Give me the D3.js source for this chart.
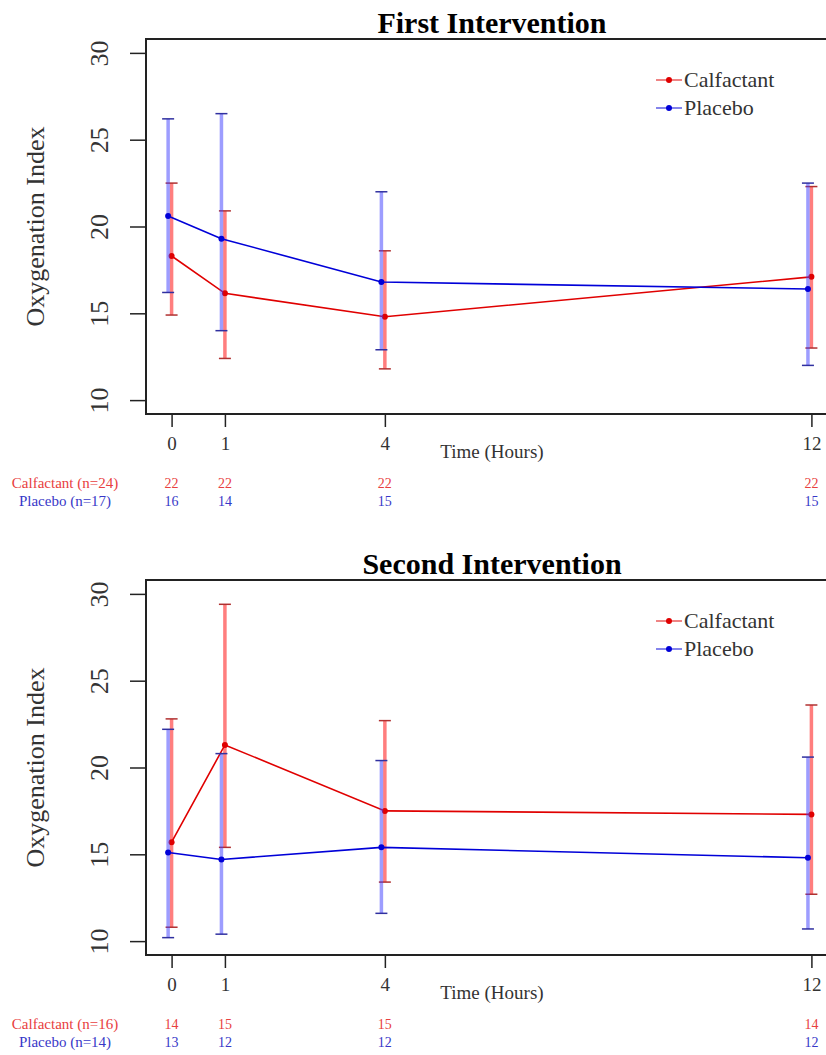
<!DOCTYPE html>
<html>
<head>
<meta charset="utf-8">
<script src="https://cdn.jsdelivr.net/npm/d3@7"></script>
<style>
  body { margin: 0; background: #fff; }
  svg { display: block; }
</style>
</head>
<body>
<script>
// hours on the x axis
const hours = [0, 1, 4, 12];
const yTicks = [10, 15, 20, 25, 30];

// first intervention
const first_calf_mean = [18.3, 16.15, 14.8, 17.1];
const first_calf_lo   = [14.9, 12.4, 11.8, 13.0];
const first_calf_hi   = [22.5, 20.9, 18.6, 22.3];
const first_plac_mean = [20.6, 19.3, 16.8, 16.4];
const first_plac_lo   = [16.2, 14.0, 12.9, 12.0];
const first_plac_hi   = [26.2, 26.5, 22.0, 22.5];
const first_calf_n = [22, 22, 22, 22];
const first_plac_n = [16, 14, 15, 15];

// second intervention
const second_calf_mean = [15.7, 21.3, 17.5, 17.3];
const second_calf_lo   = [10.8, 15.4, 13.4, 12.7];
const second_calf_hi   = [22.8, 29.4, 22.7, 23.6];
const second_plac_mean = [15.1, 14.7, 15.4, 14.8];
const second_plac_lo   = [10.2, 10.4, 11.6, 10.7];
const second_plac_hi   = [22.2, 20.8, 20.4, 20.6];
const second_calf_n = [14, 15, 15, 14];
const second_plac_n = [13, 12, 12, 12];

const canvasW = 826;
const canvasH = 1055;
const serif = "'Liberation Serif', 'DejaVu Serif', serif";

let svg = d3.select("body").append("svg")
  .attr("width", canvasW)
  .attr("height", canvasH)
  .style("background-color", "#fff");

// x scale is shared: R style 4% padding on [0,12]
let x = d3.scaleLinear().domain([-0.48, 12.48]).range([146, 837]);

function drawPanel(p) {
  let y = d3.scaleLinear().domain([9.2, 30.8]).range([p.bottom, p.top]);
  let g = svg.append("g");

  // title
  g.append("text")
    .attr("x", 492)
    .attr("y", p.top - 6)
    .attr("text-anchor", "middle")
    .attr("font-family", serif)
    .attr("font-weight", "bold")
    .attr("font-size", "30px")
    .text(p.title);

  // y axis
  let yAxis = g.append("g")
    .attr("transform", "translate(146,0)")
    .call(d3.axisLeft(y).tickValues(yTicks).tickSize(16).tickFormat(d3.format("d")));
  yAxis.select(".domain").remove();
  yAxis.selectAll("line").attr("stroke", "#222").attr("stroke-width", 1.5);
  yAxis.selectAll("text")
    .attr("transform", "rotate(-90)")
    .attr("x", 0).attr("y", -38).attr("dy", 0)
    .attr("text-anchor", "middle")
    .attr("font-family", serif)
    .attr("font-size", "26px")
    .attr("fill", "#333");

  // x axis
  let xAxis = g.append("g")
    .attr("transform", "translate(0," + p.bottom + ")")
    .call(d3.axisBottom(x).tickValues(hours).tickSize(13).tickFormat(d3.format("d")));
  xAxis.select(".domain").remove();
  xAxis.selectAll("line").attr("stroke", "#222").attr("stroke-width", 1.5);
  xAxis.selectAll("text")
    .attr("y", 36).attr("dy", 0)
    .attr("font-family", serif)
    .attr("font-size", "19px")
    .attr("fill", "#333");

  g.append("text")
    .attr("x", 492)
    .attr("y", p.bottom + 44)
    .attr("text-anchor", "middle")
    .attr("font-family", serif)
    .attr("font-size", "19px")
    .attr("fill", "#333")
    .text("Time (Hours)");

  g.append("text")
    .attr("transform", "translate(44," + ((p.top + p.bottom) / 2) + ") rotate(-90)")
    .attr("text-anchor", "middle")
    .attr("font-family", serif)
    .attr("font-size", "26px")
    .attr("fill", "#333")
    .text("Oxygenation Index");

  // series
  p.series.forEach(s => {
    let pts = hours.map((h, i) => ({ h: h, m: s.mean[i], lo: s.lo[i], hi: s.hi[i] }));
    let px = d => x(d.h + s.shift);

    g.selectAll()
      .data(pts)
      .enter()
      .append("line")
        .attr("x1", px).attr("x2", px)
        .attr("y1", d => y(d.lo)).attr("y2", d => y(d.hi))
        .attr("stroke", s.light)
        .attr("stroke-width", 3.5);

    ["lo", "hi"].forEach(k => {
      g.selectAll()
        .data(pts)
        .enter()
        .append("line")
          .attr("x1", d => px(d) - 6).attr("x2", d => px(d) + 6)
          .attr("y1", d => y(d[k])).attr("y2", d => y(d[k]))
          .attr("stroke", s.dark)
          .attr("stroke-width", 1.5);
    });

    g.append("path")
      .datum(pts)
      .attr("fill", "none")
      .attr("stroke", s.color)
      .attr("stroke-width", 1.6)
      .attr("d", d3.line().x(px).y(d => y(d.m)));

    g.selectAll()
      .data(pts)
      .enter()
      .append("circle")
        .attr("cx", px)
        .attr("cy", d => y(d.m))
        .attr("r", 3)
        .attr("fill", s.color);
  });

  // box
  g.append("rect")
    .attr("x", 146).attr("y", p.top)
    .attr("width", 691).attr("height", p.bottom - p.top)
    .attr("fill", "none")
    .attr("stroke", "#222")
    .attr("stroke-width", 2);

  // legend
  p.series.forEach((s, i) => {
    let ly = p.top + 41 + i * 28;
    g.append("line")
      .attr("x1", 656).attr("x2", 682)
      .attr("y1", ly).attr("y2", ly)
      .attr("stroke", s.color).attr("stroke-width", 1.6).attr("opacity", 0.6);
    g.append("circle")
      .attr("cx", 669).attr("cy", ly).attr("r", 3)
      .attr("fill", s.color);
    g.append("text")
      .attr("x", 684).attr("y", ly + 7)
      .attr("font-family", serif)
      .attr("font-size", "22px")
      .attr("fill", "#333")
      .text(s.name);
  });

  // number at risk rows
  p.series.forEach((s, i) => {
    let ry = p.bottom + 74 + i * 18;
    g.append("text")
      .attr("x", 65).attr("y", ry)
      .attr("text-anchor", "middle")
      .attr("font-family", serif)
      .attr("font-size", "15px")
      .attr("fill", s.text)
      .text(s.label);
    g.selectAll()
      .data(hours)
      .enter()
      .append("text")
        .attr("x", d => x(d))
        .attr("y", ry)
        .attr("text-anchor", "middle")
        .attr("font-family", serif)
        .attr("font-size", "14px")
        .attr("fill", s.text)
        .text((d, j) => s.n[j]);
  });
}

const red = { color: "#e00000", light: "rgba(255,40,40,0.6)", dark: "#b03030", text: "#e84040", shift: 0 };
const blue = { color: "#0000d8", light: "rgba(60,60,255,0.5)", dark: "#3030a0", text: "#3838c8", shift: -0.065 };

drawPanel({
  title: "First Intervention", top: 39, bottom: 414,
  series: [
    Object.assign({ name: "Calfactant", label: "Calfactant (n=24)", mean: first_calf_mean, lo: first_calf_lo, hi: first_calf_hi, n: first_calf_n }, red),
    Object.assign({ name: "Placebo", label: "Placebo (n=17)", mean: first_plac_mean, lo: first_plac_lo, hi: first_plac_hi, n: first_plac_n }, blue)
  ]
});

drawPanel({
  title: "Second Intervention", top: 580, bottom: 955,
  series: [
    Object.assign({ name: "Calfactant", label: "Calfactant (n=16)", mean: second_calf_mean, lo: second_calf_lo, hi: second_calf_hi, n: second_calf_n }, red),
    Object.assign({ name: "Placebo", label: "Placebo (n=14)", mean: second_plac_mean, lo: second_plac_lo, hi: second_plac_hi, n: second_plac_n }, blue)
  ]
});
</script>
</body>
</html>
